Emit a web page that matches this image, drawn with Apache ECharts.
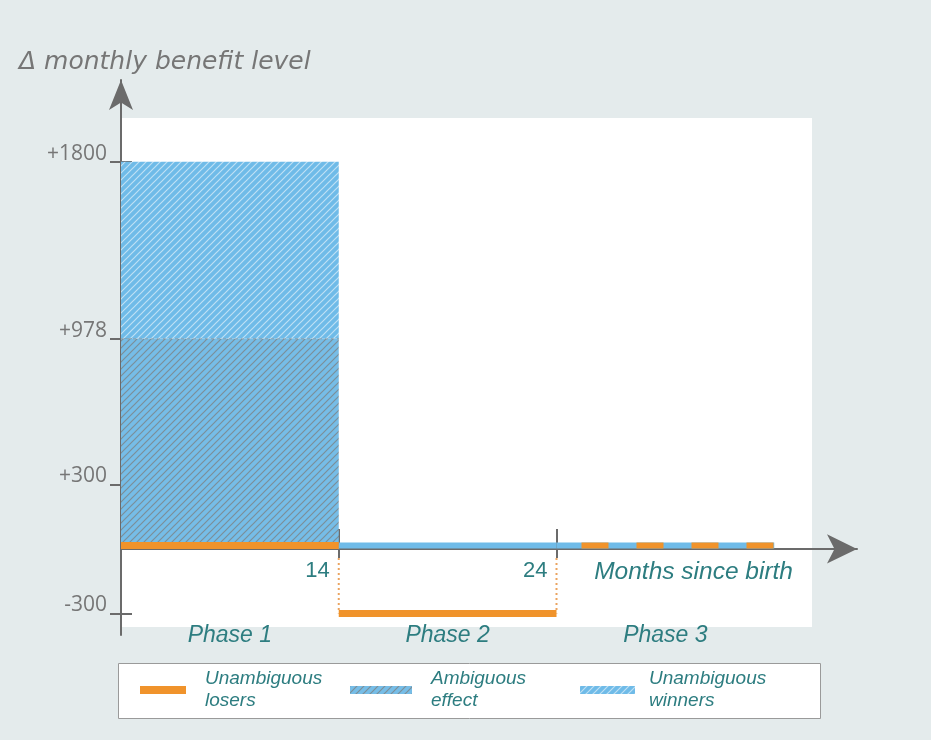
<!DOCTYPE html>
<html><head><meta charset="utf-8">
<script src="https://cdn.jsdelivr.net/npm/echarts@6/dist/echarts.min.js"></script>
<style>html,body{margin:0;padding:0;background:#e4ebec}#c{width:931px;height:740px}</style>
</head><body><div id="c"></div>
<script>
// ---- data ----
const phases = ['Phase 1', 'Phase 2', 'Phase 3'];
const boundaryLabels = ['14', '24'];          // months at the phase boundaries
const yTickValues = [-300, 300, 978, 1800];   // Δ monthly benefit tick values
const winnersFrom = [978, 0, 0];              // unambiguous winners, lower level per phase
const winnersTo = [1800, 0, 0];               // unambiguous winners, upper level per phase
const ambiguousFrom = [0, null, null];        // ambiguous effect, lower level per phase
const ambiguousTo = [978, null, null];        // ambiguous effect, upper level per phase
const losersLevel = [0, -300, 0];             // unambiguous losers level per phase
const seriesNames = ['Unambiguous losers', 'Ambiguous effect', 'Unambiguous winners'];

// ---- styles ----
const TEAL = '#2d7d80', AXIS = '#6b6b6b', GREY_TXT = '#767676';
const ORANGE = '#f0932b', BLUE = '#6fbbe8';
function hatch(bg, line, size, lw) {
  const c = document.createElement('canvas'); c.width = c.height = size;
  const g = c.getContext('2d'); g.fillStyle = bg; g.fillRect(0, 0, size, size);
  g.strokeStyle = line; g.lineWidth = lw; g.beginPath();
  g.moveTo(-1, size + 1); g.lineTo(size + 1, -1);
  g.moveTo(-1, 1); g.lineTo(1, -1);
  g.moveTo(size - 1, size + 1); g.lineTo(size + 1, size - 1);
  g.stroke();
  return c;
}
const winPat = { image: hatch('#6fbbe8', 'rgba(255,255,255,0.55)', 7, 1.2), repeat: 'repeat' };
const ambPat = { image: hatch('#76bde7', 'rgba(125,135,140,0.85)', 7, 1.2), repeat: 'repeat' };

const boundaryPositions = boundaryLabels.map((_, i) => i + 1);
const phaseCenters = phases.map((_, i) => i + 0.5);
const XMAX = 3.38, YMIN = -400, YMAX = 2180;

const winnersData = phases.map((_, i) => [i, winnersFrom[i], winnersTo[i]]);
const ambiguousData = phases.map((_, i) => [i, ambiguousFrom[i], ambiguousTo[i]]).filter(d => d[1] !== null);
const losersData = phases.map((_, i) => [i, losersLevel[i],
  (winnersFrom[i] === winnersTo[i] && winnersTo[i] === losersLevel[i]) ? 1 : 0]);

const chart = echarts.init(document.getElementById('c'));
const legendCommon = {
  top: 668, padding: 0, icon: 'rect', itemHeight: 8, selectedMode: false,
  formatter: n => n.replace(' ', '\n')
};
const legendText = p => ({ color: TEAL, fontSize: 19, fontStyle: 'italic', fontFamily: 'Liberation Sans', lineHeight: 22, padding: [0, 0, 0, p] });
const xBase = { type: 'value', min: 0, max: XMAX, position: 'bottom', splitLine: { show: false } };

chart.setOption({
  backgroundColor: '#e4ebec',
  animation: false,
  title: {
    text: 'Δ monthly benefit level', left: 14, top: 45,
    textStyle: { fontFamily: 'DejaVu Sans', fontStyle: 'italic', fontWeight: 'normal', fontSize: 25, color: GREY_TXT }
  },
  graphic: [
    { type: 'rect', left: 121, top: 118, shape: { width: 691, height: 509 }, style: { fill: '#ffffff' }, z: -10, silent: true },
    { type: 'rect', left: 118, top: 663, shape: { width: 702, height: 55 }, style: { fill: '#ffffff', stroke: '#9a9a9a', lineWidth: 1 }, z: -10, silent: true }
  ],
  legend: [
    Object.assign({ data: [seriesNames[0]], left: 140, itemWidth: 46, textStyle: legendText(14) }, legendCommon),
    Object.assign({ data: [seriesNames[1]], left: 350, itemWidth: 62, textStyle: legendText(14) }, legendCommon),
    Object.assign({ data: [seriesNames[2]], left: 580, itemWidth: 55, textStyle: legendText(9) }, legendCommon)
  ],
  grid: { left: 121, right: 74, top: 80, bottom: 105, outerBoundsMode: 'none' },
  xAxis: [
    Object.assign({}, xBase, {
      axisLine: { show: true, onZero: true, lineStyle: { color: AXIS, width: 2 }, symbol: ['none', 'arrow'], symbolSize: [22, 30] },
      axisTick: { show: true, customValues: boundaryPositions, length: 9, lineStyle: { color: AXIS, width: 2 } },
      axisLabel: { show: false },
      name: 'Months since birth', nameLocation: 'end', nameGap: -64,
      nameTextStyle: { color: TEAL, fontSize: 24.5, fontStyle: 'italic', fontFamily: 'Liberation Sans', align: 'right', verticalAlign: 'top', lineHeight: 26, padding: [10, 0, 0, 0] }
    }),
    Object.assign({}, xBase, {
      axisLine: { show: true, onZero: true, lineStyle: { opacity: 0 } },
      axisTick: { show: true, customValues: boundaryPositions, inside: true, length: 20, lineStyle: { color: AXIS, width: 2 } },
      axisLabel: { show: false }
    }),
    Object.assign({}, xBase, {
      axisLine: { show: false, onZero: false }, axisTick: { show: false },
      axisLabel: {
        customValues: phaseCenters, formatter: v => phases[Math.floor(v)], margin: -11,
        color: TEAL, fontSize: 23, fontStyle: 'italic', fontFamily: 'Liberation Sans'
      }
    }),
    Object.assign({}, xBase, {
      axisLine: { show: false, onZero: false }, axisTick: { show: false },
      axisLabel: {
        customValues: boundaryPositions, formatter: v => boundaryLabels[boundaryPositions.indexOf(v)],
        align: 'right', padding: [0, 9, 0, 0], margin: -75, color: TEAL, fontSize: 22, fontFamily: 'Liberation Sans'
      }
    })
  ],
  yAxis: [
    {
      type: 'value', min: YMIN, max: YMAX, position: 'left',
      axisLine: { show: true, onZero: true, lineStyle: { color: AXIS, width: 2 }, symbol: ['none', 'arrow'], symbolSize: [18, 30] },
      axisTick: { show: true, customValues: yTickValues, length: 11, lineStyle: { color: AXIS, width: 2 } },
      axisLabel: {
        customValues: yTickValues, formatter: v => (v > 0 ? '+' : '') + v, margin: 14,
        color: GREY_TXT, fontSize: 21, fontFamily: 'Open Sans', verticalAlign: 'bottom', lineHeight: 16
      },
      splitLine: { show: false }
    },
    {
      type: 'value', min: YMIN, max: YMAX, position: 'left',
      axisLine: { show: true, onZero: true, lineStyle: { opacity: 0 } },
      axisTick: { show: true, customValues: yTickValues, inside: true, length: 11, lineStyle: { color: AXIS, width: 2 } },
      axisLabel: { show: false }, splitLine: { show: false }
    }
  ],
  series: [
    {
      name: seriesNames[1], type: 'custom', xAxisIndex: 0, yAxisIndex: 0, data: ambiguousData,
      itemStyle: { color: ambPat },
      renderItem: (params, api) => {
        const i = api.value(0), lo = api.value(1), hi = api.value(2);
        const a = api.coord([i, lo]), b = api.coord([i + 1, hi]);
        return {
          type: 'group', children: [
            { type: 'rect', shape: { x: a[0], y: b[1], width: b[0] - a[0], height: a[1] - b[1] }, style: { fill: ambPat } },
            { type: 'line', shape: { x1: a[0], y1: b[1], x2: b[0], y2: b[1] }, style: { stroke: '#9a9a9a', lineWidth: 1.5, lineDash: [3, 3] } }
          ]
        };
      }
    },
    {
      name: seriesNames[2], type: 'custom', xAxisIndex: 0, yAxisIndex: 0, data: winnersData,
      itemStyle: { color: winPat },
      renderItem: (params, api) => {
        const i = api.value(0), lo = api.value(1), hi = api.value(2);
        const a = api.coord([i, lo]), b = api.coord([i + 1, hi]);
        if (hi > lo) {
          return { type: 'rect', shape: { x: a[0], y: b[1], width: b[0] - a[0], height: a[1] - b[1] }, style: { fill: winPat } };
        }
        const y = a[1] - 3.5;
        return { type: 'line', shape: { x1: a[0], y1: y, x2: b[0], y2: y }, style: { stroke: BLUE, lineWidth: 6 } };
      }
    },
    {
      name: seriesNames[0], type: 'custom', xAxisIndex: 0, yAxisIndex: 0, data: losersData,
      itemStyle: { color: ORANGE },
      renderItem: (params, api) => {
        const i = api.value(0), lvl = api.value(1), mixed = api.value(2);
        const a = api.coord([i, lvl]), b = api.coord([i + 1, lvl]);
        const zeroY = api.coord([i, 0])[1];
        const children = [];
        let y = a[1];
        if (lvl === 0) {
          y = a[1] - 3.5;
        } else {
          [a[0], b[0]].forEach(x => children.push({
            type: 'line', shape: { x1: x, y1: zeroY + 9, x2: x, y2: a[1] },
            style: { stroke: '#eba460', lineWidth: 2, lineDash: [2, 3] }
          }));
        }
        children.push({
          type: 'line', shape: { x1: a[0], y1: y, x2: b[0], y2: y },
          style: mixed ? { stroke: ORANGE, lineWidth: 6, lineDash: [27, 28], lineDashOffset: 30 }
                       : { stroke: ORANGE, lineWidth: 7 }
        });
        return { type: 'group', children };
      }
    }
  ]
});
</script></body></html>
